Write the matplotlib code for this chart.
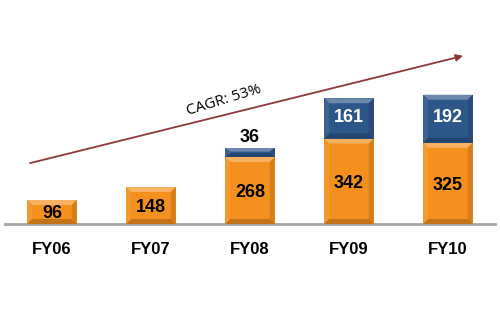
import numpy as np
import matplotlib.pyplot as plt
from matplotlib.patches import Polygon, Rectangle
from matplotlib.colors import to_rgb

years = ["FY06", "FY07", "FY08", "FY09", "FY10"]
base_vals = [96, 148, 268, 342, 325]
top_vals = [0, 0, 36, 161, 192]
cagr_text = "CAGR: 53%"

orange = "#F3901E"
blue = "#2D5689"


def shade(color, f):
    r, g, b = to_rgb(color)
    if f >= 1:
        return tuple(c + (1 - c) * (f - 1) for c in (r, g, b))
    return tuple(c * f for c in (r, g, b))


def bevel_bar(ax, x, y0, h, w, color, bx, by):
    """draw a rectangle with a simple bevelled look"""
    by = min(by, h / 2.5)
    x0, x1 = x - w / 2, x + w / 2
    y1 = y0 + h
    ax.add_patch(Rectangle((x0, y0), w, h, facecolor=color, edgecolor="none"))
    # top, left, right, bottom facets
    facets = [
        ([(x0, y1), (x1, y1), (x1 - bx, y1 - by), (x0 + bx, y1 - by)], 1.3),
        ([(x0, y0), (x0, y1), (x0 + bx, y1 - by), (x0 + bx, y0 + by)], 1.08),
        ([(x1, y0), (x1, y1), (x1 - bx, y1 - by), (x1 - bx, y0 + by)], 0.88),
        ([(x0, y0), (x1, y0), (x1 - bx, y0 + by), (x0 + bx, y0 + by)], 0.8),
    ]
    for pts, f in facets:
        ax.add_patch(Polygon(pts, closed=True, facecolor=shade(color, f), edgecolor="none"))


fig = plt.figure(figsize=(5, 3.23), dpi=100)
ax = fig.add_axes([0, 0, 1, 1])
ax.set_xlim(-0.525, 4.525)
ax.set_ylim(-396, 896)
ax.axis("off")

x = np.arange(len(years))
width = 0.5
bx, by = 0.05, 20
lab = dict(ha="center", va="center", fontweight="bold", family="Liberation Sans")

for i in x:
    bevel_bar(ax, i, 0, base_vals[i], width, orange, bx, by)
    ax.text(i, base_vals[i] / 2 - 8, str(base_vals[i]), fontsize=13, color="black", **lab)
    if top_vals[i] > 0:
        bevel_bar(ax, i, base_vals[i], top_vals[i], width, blue, bx, by)
        if top_vals[i] < 80:
            ax.text(i, base_vals[i] + top_vals[i] + 44, str(top_vals[i]),
                    fontsize=13, color="black", **lab)
        else:
            ax.text(i, base_vals[i] + top_vals[i] / 2 + 4, str(top_vals[i]),
                    fontsize=13, color="white", **lab)
    ax.text(i, -104, years[i], fontsize=12, color="black", **lab)

# baseline
ax.axhline(0, xmin=0.01, xmax=0.99, color="#A6A6A6", lw=2, zorder=0)

# growth arrow
ax.annotate("", xy=(0.926, 0.827), xytext=(0.06, 0.495), xycoords="axes fraction",
            arrowprops=dict(arrowstyle="-|>", color="#8E3A3A", lw=1.3,
                            mutation_scale=10, shrinkA=0, shrinkB=0))
ax.text(0.448, 0.69, cagr_text, transform=ax.transAxes, rotation=17,
        ha="center", va="center", fontsize=11, family="Open Sans", color="black")

fig.savefig("out.png", dpi=100)
